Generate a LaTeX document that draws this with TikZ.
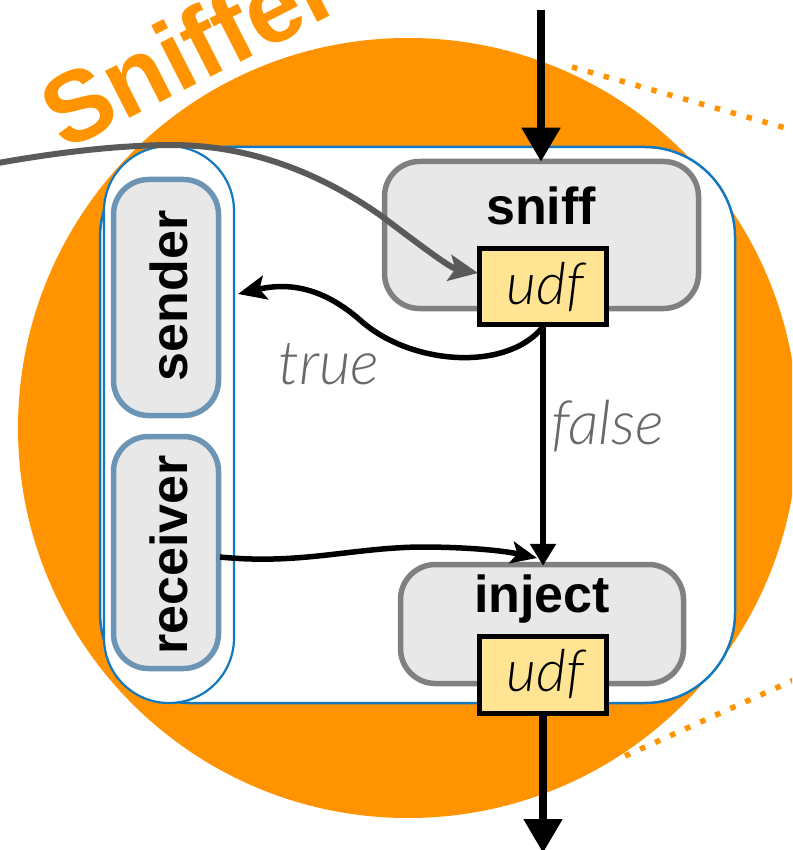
\documentclass[tikz,border=0pt]{standalone}
\usepackage{fontspec}
\setmainfont{Liberation Sans}
\newfontfamily\lightit{Lato}[UprightFont={* Light Italic}]
\usetikzlibrary{arrows.meta}
\definecolor{orng}{RGB}{255,148,0}
\definecolor{blu}{RGB}{20,120,190}
\definecolor{steel}{RGB}{108,148,180}
\definecolor{boxfill}{RGB}{232,232,232}
\definecolor{boxline}{RGB}{128,128,128}
\definecolor{udfy}{RGB}{255,228,148}
\definecolor{labgray}{RGB}{105,105,105}
\definecolor{curvegray}{RGB}{90,90,90}
\begin{document}
\begin{tikzpicture}[x=1pt,y=-1pt,
  procbox/.style={draw=boxline, fill=boxfill, line width=5.5pt, rounded corners=35pt, inner sep=0pt},
  rolebox/.style={draw=steel, fill=boxfill, line width=5.5pt, rounded corners=35pt, inner sep=0pt},
  udfbox/.style={draw=black, fill=udfy, line width=5.5pt, inner sep=0pt, minimum width=127, minimum height=76},
  boldtxt/.style={font=\fontsize{52}{60}\selectfont\bfseries, inner sep=0pt},
  udftxt/.style={font=\fontsize{58}{64}\selectfont\lightit, inner sep=0pt},
  labtxt/.style={font=\fontsize{61}{66}\selectfont\lightit, inner sep=0pt, text=labgray},
  bigarr/.style={line width=8pt, -{Triangle[width=37pt,length=34pt]}},
  arrline/.style={line width=5.5pt},
  dots/.style={orng, line width=5.5pt, dash pattern=on 5.5pt off 11pt}
]
\useasboundingbox (0,0) rectangle (792,850);
\clip (0,0) rectangle (792,850);

% orange disc
\fill[orng] (408,428) circle[radius=390pt];

% dotted lines
\coordinate (d1a) at (572,67);
\coordinate (d1b) at (796,131);
\coordinate (d2a) at (625,756);
\coordinate (d2b) at (796,679);
\draw[dots] (d1a) -- (d1b);
\draw[dots] (d2a) -- (d2b);

% outer frame
\node[draw=blu, fill=white, line width=2.5pt, rounded corners=90pt, inner sep=0pt,
      minimum width=635, minimum height=556] (frame) at (417.5,425) {};
% pill
\node[draw=blu, fill=white, line width=2.2pt, rounded corners=65pt, inner sep=0pt,
      minimum width=130, minimum height=557] (pill) at (169,424.5) {};

% sender / receiver
\node[rolebox, minimum width=105, minimum height=236] (senderbox) at (166,297.5) {};
\node[rolebox, minimum width=105, minimum height=232] (receiverbox) at (166,552.5) {};
\node[boldtxt, rotate=90, anchor=base] (sendertxt) at (187,296) {sender};
\node[boldtxt, rotate=90, anchor=base] (receivertxt) at (187,555) {receiver};

% sniff / inject
\node[procbox, minimum width=314, minimum height=147] (sniff) at (541.5,235) {};
\node[procbox, minimum width=283, minimum height=119] (inject) at (542,624) {};
\node[boldtxt, anchor=base] (snifftxt) at (541,224) {sniff};
\node[boldtxt, anchor=base] (injecttxt) at (542,612) {inject};

% udf boxes
\node[udfbox] (udf1) at (543,286.5) {};
\node[udfbox, minimum height=77] (udf2) at (543,675) {};
\node[udftxt, anchor=base] (udf1txt) at (545,304) {udf};
\node[udftxt, anchor=base] (udf2txt) at (545,691) {udf};

% labels
\node[labtxt, anchor=base west] (truetxt) at (278,384) {true};
\node[labtxt, anchor=base west] (falsetxt) at (551,444) {false};

% arrows
\coordinate (topin) at (541,10);
\draw[bigarr] (topin) -- ([yshift=-3pt]topin |- sniff.north);
\coordinate (botout) at (543,853);
\draw[bigarr] (udf2.south) -- (botout);

\draw[arrline, -{Triangle[width=25pt,length=22pt]}] (udf1.south) -- ([yshift=-4pt]udf1.south |- inject.north);

\coordinate (truestart) at (542,328);
\coordinate (trueend) at (238,294);
\draw[arrline, -{Stealth[width=24pt,length=28pt,inset=6pt]}]
  (truestart) .. controls (505,372) and (410,365) .. (360,320)
  .. controls (320,285) and (285,283) .. (trueend);

\coordinate (recstart) at (220,557);
\coordinate (recend) at (537,558);
\draw[arrline, -{Stealth[width=22pt,length=26pt,inset=6pt]}]
  (recstart) .. controls (300,565) and (350,548) .. (420,547)
  .. controls (470,547) and (505,551) .. (recend);

\coordinate (grayin) at (-2,163);
\coordinate (grayend) at (478,273);
\draw[curvegray, line width=6pt, -{Stealth[width=26pt,length=29pt,inset=6pt]}]
  (grayin) .. controls (60,152) and (120,145) .. (175,145)
  .. controls (260,146) and (330,180) .. (380,215)
  .. controls (420,245) and (450,268) .. (grayend);

% title
\node[font=\fontsize{100}{104}\selectfont\bfseries, text=orng, rotate=27, anchor=base west, inner sep=0pt]
  (title) at (64,152) {Sniffer};
\end{tikzpicture}
\end{document}
